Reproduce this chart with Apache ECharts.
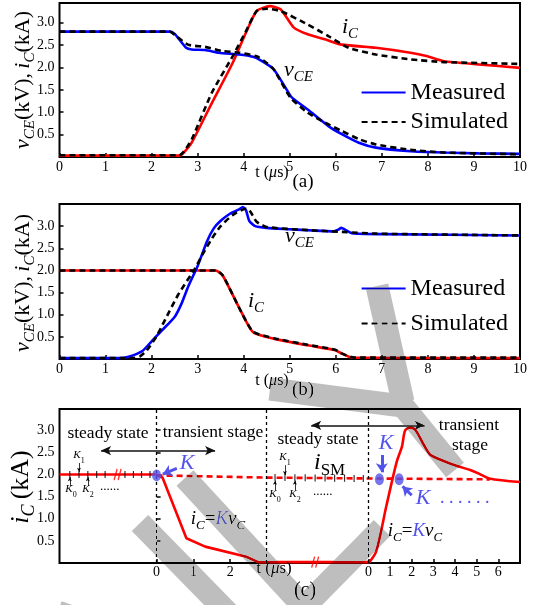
<!DOCTYPE html>
<html>
<head>
<meta charset="utf-8">
<script src="https://cdn.jsdelivr.net/npm/echarts@6/dist/echarts.min.js"></script>
<style>
  html, body { margin: 0; padding: 0; background: #fff; }
  #chart { width: 537px; height: 605px; }
</style>
</head>
<body>
<div id="chart"></div>
<script>
// ---------- data ----------
// tick values
const timeTicks = [0, 1, 2, 3, 4, 5, 6, 7, 8, 9, 10];
const levelTicks = [0.5, 1.0, 1.5, 2.0, 2.5, 3.0];
const cTicksFirst = [0, 1, 2];
const cTicksSecond = [0, 1, 2, 3, 4, 5, 6];

// (a) turn-on: [t (us), kV or kA]
const aVceMeasured = [[0,2.8],[2.4,2.8],[2.5,2.75],[2.75,2.44],[2.87,2.40],[3.16,2.39],[3.46,2.33],[3.9,2.29],[4.2,2.24],[4.35,2.17],[4.65,1.96],[5.02,1.36],[5.09,1.29],[5.39,1.06],[5.84,0.69],[6.13,0.51],[6.5,0.32],[6.87,0.21],[7.62,0.13],[8.36,0.10],[9.1,0.08],[10,0.07]];
const aVceSimulated = [[0,2.8],[2.4,2.8],[2.5,2.73],[2.79,2.51],[3.16,2.46],[3.53,2.37],[3.9,2.33],[4.28,2.25],[4.45,2.14],[4.65,1.96],[5.02,1.32],[5.39,0.99],[5.76,0.77],[6.13,0.58],[6.5,0.40],[6.87,0.28],[7.62,0.16],[8.36,0.10],[10,0.06]];
const aIcMeasured = [[0,0.03],[2.6,0.03],[2.7,0.10],[2.87,0.32],[3.31,1.21],[3.76,2.10],[4.05,2.78],[4.28,3.26],[4.57,3.37],[4.8,3.30],[5.09,2.89],[5.39,2.74],[5.76,2.63],[6.13,2.51],[6.87,2.44],[7.62,2.33],[7.99,2.25],[8.36,2.14],[9.1,2.07],[10,1.99]];
const aIcSimulated = [[0,0.04],[2.6,0.04],[2.7,0.12],[2.87,0.39],[3.31,1.44],[3.76,2.25],[4.05,2.81],[4.28,3.26],[4.5,3.31],[4.8,3.26],[5.39,2.96],[5.84,2.70],[6.28,2.44],[6.87,2.29],[7.62,2.18],[8.36,2.12],[10,2.08]];

// (b) turn-off
const bVceMeasured = [[0,0.02],[1.3,0.02],[1.5,0.05],[1.8,0.18],[2.0,0.40],[2.2,0.62],[2.5,0.95],[2.65,1.25],[2.8,1.65],[3.0,2.10],[3.2,2.65],[3.35,2.95],[3.5,3.12],[3.7,3.28],[3.9,3.38],[3.98,3.43],[4.05,3.36],[4.12,3.12],[4.25,3.0],[4.5,2.96],[5.0,2.93],[5.5,2.90],[5.95,2.88],[6.05,2.92],[6.12,2.96],[6.2,2.92],[6.35,2.84],[7.0,2.82],[10,2.79]];
const bVceSimulated = [[0,0.02],[1.6,0.02],[1.75,0.06],[1.9,0.20],[2.1,0.50],[2.27,0.84],[2.57,1.44],[2.94,2.04],[3.1,2.35],[3.31,2.72],[3.5,3.0],[3.76,3.25],[4.06,3.40],[4.15,3.32],[4.28,3.10],[4.5,2.98],[5.39,2.91],[6.14,2.87],[6.88,2.83],[10,2.79]];
const bIcMeasured = [[0,2.0],[3.39,2.0],[3.54,1.89],[3.91,1.14],[4.2,0.61],[4.65,0.46],[5.39,0.31],[5.99,0.20],[6.1,0.14],[6.36,0.03],[10,0.02]];
const bIcSimulated = [[0,2.0],[3.4,2.0],[3.55,1.88],[3.91,1.14],[4.2,0.62],[4.65,0.47],[5.39,0.32],[5.99,0.21],[6.1,0.14],[6.4,0.03],[10,0.03]];

// (c) schematic of i_C; first time base (A) and second time base (B), both in us
const cSteadyLeft = [[-2.64,2.0],[0,2.0]];
const cTransientFirst = [[0,2.0],[0.16,1.93],[0.81,0.56],[1.32,0.37],[2.44,0.14],[2.76,0.02],[5.79,0.02]];
const cTransientSecond = [[0.05,0.02],[0.36,0.26],[0.84,1.31],[1.31,2.29],[1.55,2.63],[1.7,3.0],[1.94,3.06],[2.18,3.0],[2.57,2.66],[2.9,2.43],[4.0,2.21],[4.7,2.10],[5.1,2.02],[5.58,1.91],[7.0,1.83]];
const cSteadyReference = [[0,1.98],[2.98,1.93],[5.79,1.91],[9.06,1.89]];
const cSampleTicksLeft = [[-2.36,2.0],[-2.11,2.0],[-1.87,2.0],[-1.63,2.0],[-1.40,2.0],[-0.86,2.0],[-0.63,2.0],[-0.41,2.0],[-0.18,2.0]];
const cSampleTicksMiddle = [[3.22,1.93],[3.49,1.93],[3.76,1.925],[4.04,1.925],[4.31,1.92],[4.58,1.92],[4.84,1.915],[5.11,1.915],[5.37,1.91],[5.62,1.91]];
const cBreaks = [[-1.06,2.0],[4.31,0.02]];
const cStageBounds = [0, 2.98];          // on the first time base
const cSecondStart = [0];                 // on the second time base
const cKPointFirst = [[0,1.98]];
const cKPointsSecond = [[0.51,1.89],[1.42,1.89]];
// arrows: [from, to]
const cSpanLeft = [[-1.51,2.54],[1.59,2.54]];
const cSpanRight = [[-2.64,3.11],[2.6,3.11]];
const cKArrowFirst = [[0.55,2.14],[0.17,2.01]];
const cKArrowsSecond = [[[0.62,2.44],[0.62,2.05]], [[2.0,1.53],[1.58,1.73]]];
const cSampleArrows = [
  [[-2.11,2.26],[-2.11,2.06]], [[-2.36,1.74],[-2.36,1.94]], [[-1.87,1.74],[-1.87,1.94]],
  [[3.49,2.21],[3.49,1.99]], [[3.22,1.65],[3.22,1.86]], [[3.76,1.65],[3.76,1.86]]
];

// ---------- styles ----------
const FONT = 'Liberation Serif';
const BLUE = '#0000ff';
const RED = '#ff0000';
const KBLUE = '#5252ec';
const PLOT_LEFT = 59.5, PLOT_W = 460.5;

function richSet(size, subSize, color) {
  const base = { fontFamily: FONT, fill: color, color: color };
  return {
    n:   Object.assign({}, base, { fontSize: size, lineHeight: size + 4, verticalAlign: 'top' }),
    it:  Object.assign({}, base, { fontSize: size, lineHeight: size + 4, verticalAlign: 'top', fontStyle: 'italic' }),
    sub: Object.assign({}, base, { fontSize: subSize, lineHeight: Math.round(subSize * 0.7), verticalAlign: 'bottom', fontStyle: 'italic' }),
    subn:Object.assign({}, base, { fontSize: subSize, lineHeight: Math.round(subSize * 0.7), verticalAlign: 'bottom' }),
    kb:  Object.assign({}, base, { fontSize: size, lineHeight: size + 4, verticalAlign: 'top', fontStyle: 'italic', fill: KBLUE, color: KBLUE })
  };
}
function label(x, y, text, size, subSize, opts) {
  opts = opts || {};
  return {
    type: 'text', x: x, y: y, rotation: opts.rotation || 0, z: 50, silent: true,
    style: {
      text: text, fontFamily: FONT, fontSize: size,
      fill: opts.color || '#000',
      align: opts.align || 'center', verticalAlign: 'middle',
      rich: richSet(size, subSize, opts.color || '#000')
    }
  };
}

function valueAxis(grid, min, max, ticks, labelMargin, fmt) {
  return {
    type: 'value', gridIndex: grid, min: min, max: max,
    axisLine: { show: false },
    splitLine: { show: false },
    axisTick: { show: true, inside: true, length: 4, customValues: ticks, lineStyle: { color: '#000', width: 1.5 } },
    axisLabel: { show: true, customValues: ticks, margin: labelMargin, color: '#000', fontFamily: FONT, fontSize: 14, formatter: fmt }
  };
}
const fmtInt = v => String(Math.round(v));
const fmtOne = v => v.toFixed(1);

function curve(name, data, xi, yi, color, dashed, width) {
  return {
    type: 'line', name: name, data: data, xAxisIndex: xi, yAxisIndex: yi,
    symbol: 'none', showSymbol: false, smooth: 0.2, silent: true,
    lineStyle: { color: color, width: width || 2.6, type: dashed ? [6, 4] : 'solid' },
    itemStyle: { color: color }, z: dashed ? 4 : 3
  };
}
function arrowItem(pair, color, width, size, both) {
  return [
    { coord: pair[0], symbol: both ? 'arrow' : 'none', symbolSize: size, lineStyle: { color: color, width: width, type: 'solid' } },
    { coord: pair[1], symbol: 'arrow', symbolSize: size }
  ];
}

// ---------- chart ----------
const chart = echarts.init(document.getElementById('chart'), null, { renderer: 'canvas' });

const grids = [
  { left: PLOT_LEFT, top: 3, width: PLOT_W, height: 154 },
  { left: PLOT_LEFT, top: 204, width: PLOT_W, height: 155 },
  { left: PLOT_LEFT, top: 409, width: PLOT_W, height: 154 }
].map(g => Object.assign(g, { show: true, borderColor: '#000', borderWidth: 2, backgroundColor: 'transparent' }));

const xAxes = [
  valueAxis(0, 0, 10, timeTicks, 3, fmtInt),
  valueAxis(1, 0, 10, timeTicks, 3, fmtInt),
  valueAxis(2, -2.64, 9.88, cTicksFirst, 2, fmtInt),
  valueAxis(2, -14.26, 7.0, cTicksSecond, 2, fmtInt)
];
xAxes[3].position = 'bottom';
xAxes[2].position = 'bottom';
const yAxes = [
  valueAxis(0, 0, 3.44, levelTicks, 5, fmtOne),
  valueAxis(1, 0, 3.5, levelTicks, 5, fmtOne),
  valueAxis(2, 0, 3.48, levelTicks, 5, fmtOne)
];

const series = [
  // (a)
  curve('iC measured a', aIcMeasured, 0, 0, RED),
  curve('Measured', aVceMeasured, 0, 0, BLUE),
  curve('iC simulated a', aIcSimulated, 0, 0, '#000', true),
  curve('Simulated', aVceSimulated, 0, 0, '#000', true),
  // (b)
  curve('iC measured b', bIcMeasured, 1, 1, RED),
  curve('vCE measured b', bVceMeasured, 1, 1, BLUE),
  curve('iC simulated b', bIcSimulated, 1, 1, '#000', true),
  curve('vCE simulated b', bVceSimulated, 1, 1, '#000', true)
];

// (c) steady-state level before the first transient, with boundaries and arrows
const steadyLeft = curve('steady left', cSteadyLeft, 2, 2, RED);
steadyLeft.smooth = false;
steadyLeft.markLine = {
  silent: true, animation: false, label: { show: false },
  symbol: ['none', 'none'],
  lineStyle: { color: '#000', width: 1.3, type: [3, 3] },
  data: cStageBounds.map(v => ({ xAxis: v }))
    .concat([arrowItem(cSpanLeft, '#111', 1.6, [7, 10], true)])
    .concat([arrowItem(cKArrowFirst, KBLUE, 3, [9, 9], false)])
    .concat(cSampleArrows.map(p => arrowItem(p, '#000', 0.8, [3, 4], false)))
};
series.push(steadyLeft);

const reference = curve('steady reference', cSteadyReference, 2, 2, RED, true, 2.6);
reference.smooth = false;
reference.z = 3;
series.push(reference);

const first = curve('transient first', cTransientFirst, 2, 2, RED);
first.smooth = false;
series.push(first);

const second = curve('transient second', cTransientSecond, 3, 2, RED);
second.smooth = 0.3;
second.markLine = {
  silent: true, animation: false, label: { show: false },
  symbol: ['none', 'none'],
  lineStyle: { color: '#000', width: 1.3, type: [3, 3] },
  data: cSecondStart.map(v => ({ xAxis: v }))
    .concat([arrowItem(cSpanRight, '#111', 1.6, [7, 10], true)])
    .concat(cKArrowsSecond.map(p => arrowItem(p, KBLUE, 3, [9, 9], false)))
};
series.push(second);

series.push({
  type: 'scatter', name: 'sample ticks', xAxisIndex: 2, yAxisIndex: 2, silent: true, z: 5,
  data: cSampleTicksLeft.concat(cSampleTicksMiddle),
  symbol: 'rect', symbolSize: [1.2, 7], itemStyle: { color: '#000' }
});
series.push({
  type: 'scatter', name: 'breaks', xAxisIndex: 2, yAxisIndex: 2, silent: true, z: 6,
  data: cBreaks,
  symbol: 'path://M0,12L3,0M4,12L7,0', symbolSize: [7, 11],
  itemStyle: { color: 'rgba(0,0,0,0)', borderColor: RED, borderWidth: 1.6 }
});
series.push({
  type: 'scatter', name: 'K first', xAxisIndex: 2, yAxisIndex: 2, silent: true, z: 7,
  data: cKPointFirst, symbol: 'circle', symbolSize: [9, 12], itemStyle: { color: KBLUE }
});
series.push({
  type: 'scatter', name: 'K second', xAxisIndex: 3, yAxisIndex: 2, silent: true, z: 7,
  data: cKPointsSecond, symbol: 'circle', symbolSize: [9, 12], itemStyle: { color: KBLUE }
});

// ---------- text ----------
const texts = [
  // axis titles
  label(25, 80, '{it|v}{sub|CE}{n|(kV),\u2009}{it|i}{sub|C}{n|(kA)}', 22, 15, { rotation: Math.PI / 2 }),
  label(25, 283, '{it|v}{sub|CE}{n|(kV),\u2009}{it|i}{sub|C}{n|(kA)}', 22, 15, { rotation: Math.PI / 2 }),
  label(23, 487, '{it|i}{sub|C}{n|\u2009(kA)}', 26, 18, { rotation: Math.PI / 2 }),
  label(272, 175, '{n|t (}{it|\u03bc}{n|s)}', 16, 12),
  label(303, 184, '{n|(a)}', 19, 14),
  label(272, 383, '{n|t (}{it|\u03bc}{n|s)}', 16, 12),
  label(303, 392, '{n|(b)}', 19, 14),
  label(274, 571, '{n|t (}{it|\u03bc}{n|s)}', 17, 12),
  label(305, 593, '{n|(c)}', 20, 14),
  // curve names
  label(342, 29, '{it|i}{sub|C}', 22, 15, { align: 'left' }),
  label(284, 72, '{it|v}{sub|CE}', 22, 15, { align: 'left' }),
  label(285, 238, '{it|v}{sub|CE}', 22, 15, { align: 'left' }),
  label(248, 303, '{it|i}{sub|C}', 22, 15, { align: 'left' }),
  // (c) annotations
  label(108, 435, '{n|steady state}', 17.5, 12),
  label(213, 434, '{n|transient stage}', 17.5, 12),
  label(318, 441, '{n|steady state}', 17.5, 12),
  label(469, 427, '{n|transient}', 17.5, 12),
  label(470, 447, '{n|stage}', 17.5, 12),
  label(314, 465, '{it|i}{subn|SM}', 24, 17, { align: 'left' }),
  label(187, 465, '{kb|K}', 22, 14),
  label(386, 445, '{kb|K}', 22, 14),
  label(423, 500, '{kb|K}', 22, 14),
  label(440, 498, '. . . . . .', 18, 12, { align: 'left', color: KBLUE }),
  label(218, 521, '{it|i}{sub|C}{n|=}{kb|K}{it|v}{sub|C}', 19, 13),
  label(415, 533, '{it|i}{sub|C}{n|=}{kb|K}{it|v}{sub|C}', 19, 13),
  label(79, 457, '{it|K}{subn|1}', 11, 8),
  label(71, 491, '{it|K}{subn|0}', 11, 8),
  label(88, 491, '{it|K}{subn|2}', 11, 8),
  label(100, 487, '......', 13, 9, { align: 'left' }),
  label(285, 459, '{it|K}{subn|1}', 11, 8),
  label(275, 496, '{it|K}{subn|0}', 11, 8),
  label(295, 496, '{it|K}{subn|2}', 11, 8),
  label(313, 492, '......', 13, 9, { align: 'left' })
];

// grey diagonal strokes lying over the lower panels
const strokeStyle = { stroke: '#bebebe', fill: null, lineWidth: 23, lineCap: 'butt', lineJoin: 'miter', blend: 'darken' };
const strokes = [
  [[270, 389], [403, 406], [455, 470]],
  [[377, 286], [403, 402]],
  [[185, 478], [304, 607], [382, 528]],
  [[140, 523], [228, 613]]
].map(pts => ({ type: 'polyline', z: 100, silent: true, shape: { points: pts }, style: Object.assign({}, strokeStyle) }));
strokes.push({ type: 'polyline', z: 100, silent: true, shape: { points: [[60, 606], [100, 620]] }, style: Object.assign({}, strokeStyle, { lineWidth: 10 }) });

const legendBase = {
  orient: 'vertical', left: 355.6, itemWidth: 44, itemHeight: 14,
  data: ['Measured', 'Simulated'], selectedMode: false,
  itemStyle: { opacity: 0 },
  textStyle: { fontFamily: FONT, fontSize: 24, lineHeight: 24, color: '#000' }
};

chart.setOption({
  backgroundColor: '#fff',
  animation: false,
  textStyle: { fontFamily: FONT },
  grid: grids,
  xAxis: xAxes,
  yAxis: yAxes,
  legend: [
    Object.assign({}, legendBase, { top: 75.5, itemGap: 5.5 }),
    Object.assign({}, legendBase, { top: 271.5, itemGap: 11 })
  ],
  series: series,
  graphic: texts.concat(strokes)
});
</script>
</body>
</html>
